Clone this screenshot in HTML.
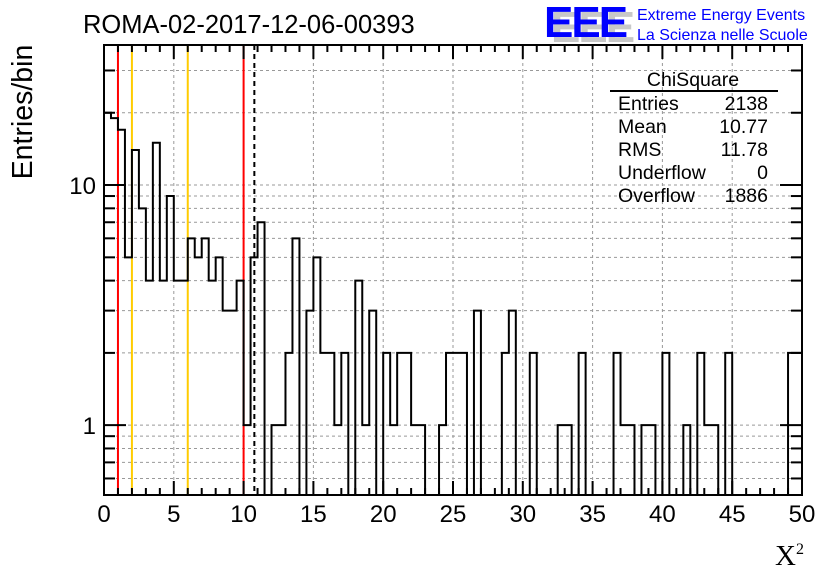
<!DOCTYPE html>
<html><head><meta charset="utf-8"><style>
body{margin:0;background:#fff;}
svg{display:block;font-family:"Liberation Sans",sans-serif;}
</style></head><body>
<svg id="c" width="836" height="572">
<text x="83" y="33" font-size="25.5">ROMA-02-2017-12-06-00393</text>
<g>
<text x="551" y="42" font-size="44" font-weight="bold" fill="#c8c8c8" letter-spacing="-2">EEE</text>
<text x="544" y="37" font-size="44" font-weight="bold" fill="#0000ff" letter-spacing="-2">EEE</text>
<text x="637" y="20" font-size="16" fill="#0000ff">Extreme Energy Events</text>
<text x="637" y="40" font-size="16" fill="#0000ff">La Scienza nelle Scuole</text>
</g>
<text transform="translate(32,112) rotate(-90)" text-anchor="middle" font-size="28.5">Entries/bin</text>
<text x="804" y="565" text-anchor="end" font-size="29" font-family="Liberation Serif,serif">X<tspan font-size="16" dy="-11">2</tspan></text>
<g id="grid"></g><g id="lines"></g><g id="hist"></g><g id="axes"></g>
<g font-size="19.5">
<text x="693" y="86" text-anchor="middle">ChiSquare</text>
<line x1="610" y1="91" x2="778" y2="91" stroke="#000" stroke-width="2"/>
<text x="618" y="110">Entries</text><text x="768" y="110" text-anchor="end">2138</text>
<text x="618" y="133">Mean</text><text x="768" y="133" text-anchor="end">10.77</text>
<text x="618" y="156">RMS</text><text x="768" y="156" text-anchor="end">11.78</text>
<text x="618" y="179">Underflow</text><text x="768" y="179" text-anchor="end">0</text>
<text x="618" y="202">Overflow</text><text x="768" y="202" text-anchor="end">1886</text>
</g>
</svg>
<script>
const binWidth = 0.5;
const counts = [20,19,17,5,14,8,4,15,4,9,4,4,6,5,6,4,5,3,3,4,1,5,7,0,1,1,2,6,0,3,5,2,2,1,2,0,4,1,3,0,2,1,2,2,1,1,0,0,1,2,2,2,0,3,0,0,0,2,3,0,0,2,0,0,0,1,1,0,2,0,0,0,0,2,1,1,0,1,1,0,2,0,0,1,0,2,1,1,0,2,0,0,0,0,0,0,0,0,2,2];
const xTicks = [0,5,10,15,20,25,30,35,40,45,50];
const yMajor = [1,10];
const yGrid = [0.6,0.7,0.8,0.9,1,2,3,4,5,6,7,8,9,10,20,30];
const redCuts = [1,10];
const orangeCuts = [2,6];
const meanVal = 10.77;
const L=104,R=802,T=45,B=495,yMin=0.512,yMax=38.3;
const X=v=>L+(v-0)/50*(R-L);
const Y=v=>{if(v<=0)return B;const y=B-(Math.log10(v)-Math.log10(yMin))/(Math.log10(yMax)-Math.log10(yMin))*(B-T);return Math.max(T,y);};
const NS="http://www.w3.org/2000/svg";
function mk(t,a,p){const e=document.createElementNS(NS,t);for(const k in a)e.setAttribute(k,a[k]);p.appendChild(e);return e;}
const grid=document.getElementById('grid'),lines=document.getElementById('lines'),hist=document.getElementById('hist'),axes=document.getElementById('axes');
xTicks.forEach(v=>{if(v>0&&v<50){const g=mk('line',{x1:X(v),x2:X(v),y1:T,y2:B,stroke:'#999','stroke-dasharray':'3,3'},grid);

}});
yGrid.forEach(v=>{const g=mk('line',{x1:L,x2:R,y1:Y(v),y2:Y(v),stroke:'#999','stroke-dasharray':'3,3'},grid);

});
redCuts.forEach(v=>{const l=mk('line',{x1:X(v),x2:X(v),y1:T,y2:B,stroke:'#ff0000','stroke-width':2},lines);

});
orangeCuts.forEach(v=>{const l=mk('line',{x1:X(v),x2:X(v),y1:T,y2:B,stroke:'#ffcc00','stroke-width':2},lines);

});
const ml=mk('line',{x1:X(meanVal),x2:X(meanVal),y1:T,y2:B,stroke:'#000','stroke-width':2,'stroke-dasharray':'5,4'},lines);


let d='M'+X(0)+','+B;
counts.forEach((c,i)=>{const y=Y(c);d+=' L'+X(i*binWidth)+','+y+' L'+X((i+1)*binWidth)+','+y;});
d+=' L'+X(50)+','+B;
const h=mk('path',{d:d,fill:'none',stroke:'#000','stroke-width':2},hist);


const fr=mk('rect',{x:L,y:T,width:R-L,height:B-T,fill:'none',stroke:'#000','stroke-width':2},axes);


for(let v=0;v<=50;v++){const len=v%5===0?14:7;
mk('line',{x1:X(v),x2:X(v),y1:B,y2:B-len,stroke:'#000','stroke-width':2},axes);
mk('line',{x1:X(v),x2:X(v),y1:T,y2:T+len,stroke:'#000','stroke-width':2},axes);}
xTicks.forEach(v=>{const t=mk('text',{x:X(v),y:522,'text-anchor':'middle','font-size':24},axes);t.textContent=v;

});
yGrid.forEach(v=>{const len=yMajor.includes(v)?22:11;
mk('line',{x1:L,x2:L+len,y1:Y(v),y2:Y(v),stroke:'#000','stroke-width':2},axes);
mk('line',{x1:R,x2:R-len,y1:Y(v),y2:Y(v),stroke:'#000','stroke-width':2},axes);});
yMajor.forEach(v=>{const t=mk('text',{x:96,y:Y(v)+9,'text-anchor':'end','font-size':24},axes);t.textContent=v;

});
</script>
</body></html>
